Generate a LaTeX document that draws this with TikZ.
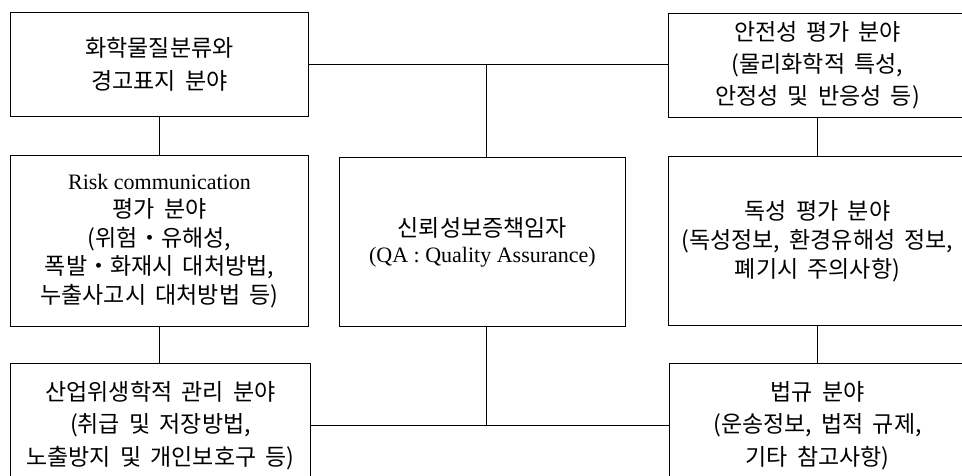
\documentclass[tikz,border=0pt]{standalone}
\usepackage{fontspec}
\setmainfont{Liberation Serif}
\newfontfamily\kr[WordSpace=1.8]{Noto Sans CJK KR}
\begin{document}
\begin{tikzpicture}[x=1pt,y=-1pt,
  box/.style={draw, line width=0.9pt, inner sep=0pt, align=center, anchor=north west},
  conn/.style={line width=0.9pt}]
\clip (0,0) rectangle (962,475);
\fill[white] (0,0) rectangle (962,475);
% boxes
\node[box, minimum width=298pt, minimum height=104pt,
      font=\kr\fontsize{23}{33}\selectfont] (tl) at (10,12)
  {화학물질분류와\\경고표지 분야};
\node[box, minimum width=298pt, minimum height=104pt,
      font=\kr\fontsize{23}{32}\selectfont] (tr) at (668,13)
  {안전성 평가 분야\\(물리화학적 특성,\\안정성 및 반응성 등)};
\node[box, minimum width=298pt, minimum height=171pt,
      font=\kr\fontsize{23}{28.5}\selectfont] (ml) at (10,155)
  {{\rmfamily\fontsize{22}{28.5}\selectfont Risk communication}\\평가 분야\\(위험・유해성,\\폭발・화재시 대처방법,\\누출사고시 대처방법 등)};
\node[box, minimum width=286pt, minimum height=169pt,
      font=\kr\fontsize{23}{26}\selectfont] (c) at (339,157)
  {\raisebox{-2pt}{신뢰성보증책임자}\\{\rmfamily\fontsize{22}{26}\selectfont \raisebox{-2pt}{(QA : Quality Assurance)}}};
\node[box, minimum width=298pt, minimum height=169pt,
      font=\kr\fontsize{23}{29}\selectfont] (mr) at (668,156)
  {독성 평가 분야\\(독성정보, 환경유해성 정보,\\폐기시 주의사항)};
\node[box, minimum width=300pt, minimum height=124pt,
      font=\kr\fontsize{23}{32.5}\selectfont] (bl) at (10,363)
  {산업위생학적 관리 분야\\(취급 및 저장방법,\\노출방지 및 개인보호구 등)};
\node[box, minimum width=296pt, minimum height=124pt,
      font=\kr\fontsize{23}{32.5}\selectfont] (br) at (669,363)
  {법규 분야\\(운송정보, 법적 규제,\\기타 참고사항)};
% junctions
\coordinate (j1) at (486,64);
\coordinate (j2) at (486,425);
% connectors
\draw[conn] (tl.east |- j1) -- (tr.west |- j1);
\draw[conn] (j1) -- (j1 |- c.north);
\draw[conn] (tl.south) -- (tl.south |- ml.north);
\draw[conn] (ml.south) -- (ml.south |- bl.north);
\draw[conn] (tr.south) -- (tr.south |- mr.north);
\draw[conn] (mr.south) -- (mr.south |- br.north);
\draw[conn] (bl.east |- j2) -- (br.west |- j2);
\draw[conn] (c.south -| j2) -- (j2);
\end{tikzpicture}
\end{document}
